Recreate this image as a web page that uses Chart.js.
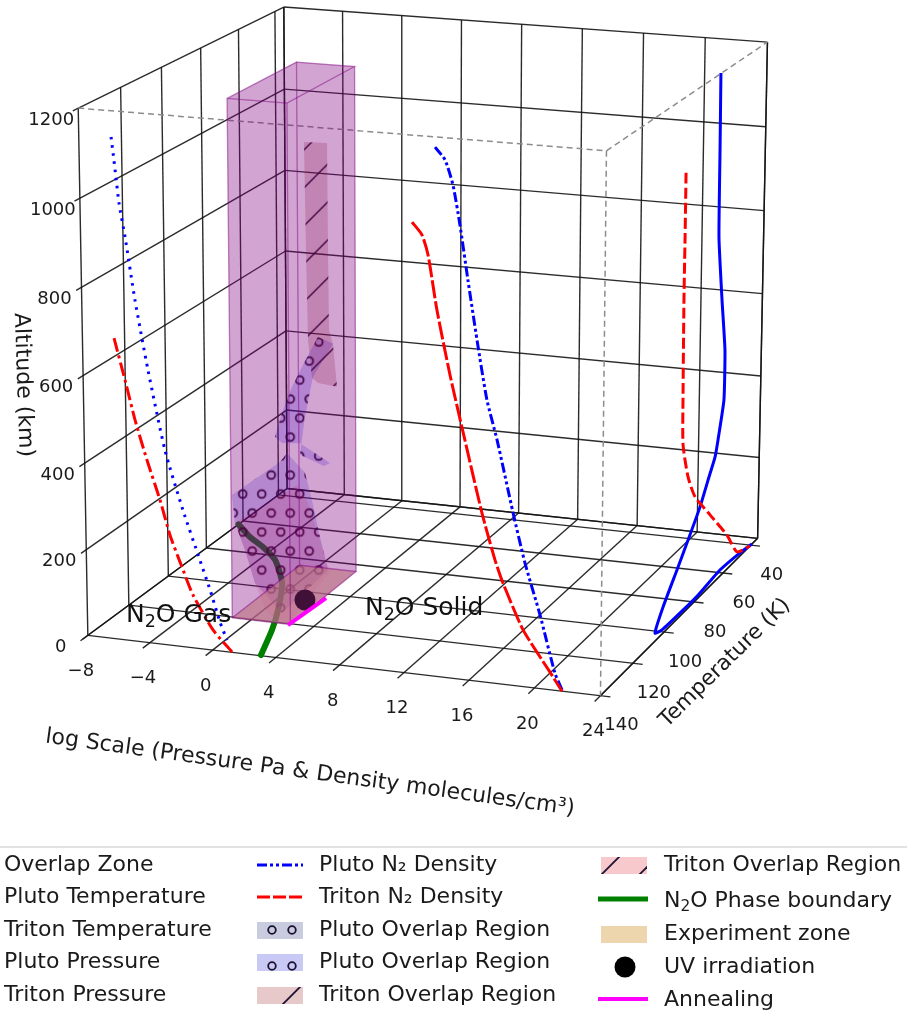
<!DOCTYPE html>
<html>
<head>
<meta charset="utf-8">
<title>Pluto and Triton N2O overlap</title>
<script src="https://cdn.jsdelivr.net/npm/chart.js@4"></script>
<style>
  body { margin: 0; background: #fff; }
  canvas { display: block; filter: blur(0.4px); }
</style>
</head>
<body>
<canvas id="myChart" width="907" height="1017"></canvas>
<script>
const xTicks = [-8, -4, 0, 4, 8, 12, 16, 20, 24];
const tempTicks = [40, 60, 80, 100, 120, 140];
const altTicks = [0, 200, 400, 600, 800, 1000, 1200];

// log values and altitudes, these sit on the T=140 wall
const plutoPressureLog = [-5.97, -5.86, -5.70, -5.54, -5.19, -4.63, -3.87, -2.87, -1.78, -0.74, -0.12, 0.49, 0.92];
const plutoPressureAlt = [1142, 1107, 1052, 997, 922, 783, 627, 449, 316, 205, 139, 67, 27];
const tritonPressureLog = [-5.99, -5.34, -4.74, -4.02, -3.23, -2.62, -2.01, -1.21, 0.04, 1.23];
const tritonPressureAlt = [692, 600, 511, 422, 334, 255, 196, 123, 47, 1];
const plutoDensityLog = [13.87, 14.47, 14.95, 15.37, 15.86, 16.42, 17.03, 17.65, 18.64, 19.38, 20.31, 21.24, 21.68];
const plutoDensityAlt = [1178, 1152, 1099, 1014, 895, 765, 635, 549, 390, 280, 167, 39, 3];
const tritonDensityLog = [12.49, 13.09, 13.46, 14.00, 14.80, 15.71, 16.76, 17.56, 18.05, 19.29, 20.94, 21.68];
const tritonDensityAlt = [1011, 985, 942, 823, 682, 541, 382, 280, 230, 129, 40, 0];

// temperature profiles, on the x=24 side
const plutoTemp = [67.6, 67.3, 67.0, 64.1, 61.4, 61.5, 65.2, 67.1, 71.7, 77.0, 84.8, 92.0, 100.9, 106.0, 101.4, 87.5, 77.4, 62.2, 47.9, 39.1];
const plutoTempAlt = [1201, 1024, 821, 666, 540, 422, 338, 303, 263, 216, 164, 118, 62, 19, 10, 7, 7, 15, 8, 0];
const tritonTemp = [90.0, 90.0, 90.1, 89.7, 89.2, 85.5, 80.5, 69.9, 57.6, 50.1, 40.6];
const tritonTempAlt = [1028, 883, 739, 507, 402, 315, 252, 174, 84, 18, 0];

// phase boundary on the floor
const phaseLog = [3.01, 1.90, 0.83, -0.90, -3.03, -4.74, -6.30, -8.0];
const phaseTemp = [139.6, 124.8, 112.8, 96.4, 82.7, 75.4, 69.9, 62.5];

const boxLog = [-1.2, 2.55];
const boxTemp = [120.4, 84.3];
const boxAlt = [0, 1195];
const uvLog = [1.65];
const uvTemp = [105.1];
const annealLog = [2.45, 2.71];
const annealTemp = [120.9, 102.5];

// overlap regions, outlines taken on the T=90 plane
const overlapTemp = 90;
const tritonUpperLog = [-0.06, 1.43, 1.46, 1.50, 1.76, 2.01, 0.77, 0.38, 0.13, 0.03];
const tritonUpperAlt = [1027, 1029, 780, 593, 558, 460, 465, 475, 564, 776];
const tritonLowerLog = [-4.79, -0.65, 0.07, 1.50, -1.31, -2.70, -3.49, -4.14];
const tritonLowerAlt = [108, 216, 175, 14, -122, -103, -33, 45];
const plutoUpperLog = [1.76, 0.78, -0.21, -0.94, -1.61, -2.08, -1.62, -0.43, 1.53, 1.13, -0.44, -0.10, 0.44];
const plutoUpperAlt = [561, 574, 504, 449, 385, 326, 313, 317, 277, 268, 289, 381, 478];
const plutoLowerLog = [-4.97, -1.76, -1.30, -0.12, 0.33, 0.85, 1.37, -1.70, -3.49, -4.14, -4.79];
const plutoLowerAlt = [175, 267, 290, 247, 183, 96, 18, -99, -33, 45, 108];

const legendCol1 = ['Overlap Zone', 'Pluto Temperature', 'Triton Temperature', 'Pluto Pressure', 'Triton Pressure'];
const legendCol2 = ['Pluto N₂ Density', 'Triton N₂ Density', 'Pluto Overlap Region', 'Pluto Overlap Region', 'Triton Overlap Region'];
const legendCol3 = ['Triton Overlap Region', 'N2O Phase boundary', 'Experiment zone', 'UV irradiation', 'Annealing'];

const logMin = -8, logMax = 24, tempFront = 140, tempBack = 35, altTop = 1200;

// where the box corners land on screen, the camera is fitted to these
const cameraFit = [
  [logMin, tempFront, 0, 88, 635], [logMax, tempFront, 0, 600, 696],
  [logMax, tempBack, 0, 758, 538], [logMin, tempBack, 0, 287, 489],
  [logMin, tempFront, altTop, 78, 108], [logMax, tempFront, altTop, 607, 151],
  [logMax, tempBack, altTop, 767, 42], [logMin, tempBack, altTop, 284, 7]
];

function normalize(x, t, z) {
  return [(x - logMin) / (logMax - logMin), (t - tempBack) / (tempFront - tempBack), z / altTop];
}

function fitCamera() {
  let rows = [];
  let right = [];
  cameraFit.forEach(c => {
    let [X, Y, Z] = normalize(c[0], c[1], c[2]);
    rows.push([X, Y, Z, 1, 0, 0, 0, 0, -c[3] * X, -c[3] * Y, -c[3] * Z]);
    right.push(c[3]);
    rows.push([0, 0, 0, 0, X, Y, Z, 1, -c[4] * X, -c[4] * Y, -c[4] * Z]);
    right.push(c[4]);
  });
  let m = [];
  for (let i = 0; i < 11; i++) {
    m[i] = [];
    for (let j = 0; j < 11; j++) {
      m[i][j] = rows.reduce((s, r) => s + r[i] * r[j], 0);
    }
    m[i][11] = rows.reduce((s, r, k) => s + r[i] * right[k], 0);
  }
  for (let i = 0; i < 11; i++) {
    let best = i;
    for (let r = i; r < 11; r++) {
      if (Math.abs(m[r][i]) > Math.abs(m[best][i])) best = r;
    }
    [m[i], m[best]] = [m[best], m[i]];
    for (let r = 0; r < 11; r++) {
      if (r === i) continue;
      let f = m[r][i] / m[i][i];
      for (let c = i; c <= 11; c++) m[r][c] -= f * m[i][c];
    }
  }
  return m.map((r, i) => r[11] / r[i]);
}

const cam = fitCamera();

function project(x, t, z) {
  let [X, Y, Z] = normalize(x, t, z);
  let w = cam[8] * X + cam[9] * Y + cam[10] * Z + 1;
  return {
    x: (cam[0] * X + cam[1] * Y + cam[2] * Z + cam[3]) / w,
    y: (cam[4] * X + cam[5] * Y + cam[6] * Z + cam[7]) / w
  };
}

const ctx = document.getElementById('myChart').getContext('2d');

function hatchO(bg) {
  let tile = document.createElement('canvas');
  tile.width = 19;
  tile.height = 38;
  let g = tile.getContext('2d');
  g.fillStyle = bg;
  g.fillRect(0, 0, 19, 38);
  g.strokeStyle = 'rgba(25,0,35,0.95)';
  g.lineWidth = 1.8;
  [[9.5, 9.5], [0, 28.5], [19, 28.5]].forEach(p => {
    g.beginPath();
    g.arc(p[0], p[1], 3.9, 0, Math.PI * 2);
    g.stroke();
  });
  let pattern = ctx.createPattern(tile, 'repeat');
  pattern.setTransform(new DOMMatrix().translate(233.2, 484.5));
  return pattern;
}

function hatchSlash(bg) {
  let tile = document.createElement('canvas');
  tile.width = 38;
  tile.height = 38;
  let g = tile.getContext('2d');
  g.fillStyle = bg;
  g.fillRect(0, 0, 38, 38);
  g.strokeStyle = 'rgba(25,0,25,0.95)';
  g.lineWidth = 1.5;
  [[-5, 5, 5, -5], [0, 38, 38, 0], [33, 43, 43, 33]].forEach(l => {
    g.beginPath();
    g.moveTo(l[0], l[1]);
    g.lineTo(l[2], l[3]);
    g.stroke();
  });
  let pattern = ctx.createPattern(tile, 'repeat');
  pattern.setTransform(new DOMMatrix().translate(-2.3, 0));
  return pattern;
}

let datasets = [];

function addLine(points, style) {
  datasets.push(Object.assign({
    data: points,
    showLine: true,
    pointRadius: 0,
    fill: false,
    tension: 0,
    borderColor: '#000',
    borderWidth: 1,
    clip: false
  }, style));
}

function addShape(points, fillStyle, style) {
  addLine(points, Object.assign({
    fill: 'shape',
    backgroundColor: fillStyle,
    borderWidth: 0,
    borderColor: 'rgba(0,0,0,0)'
  }, style));
}

const gridLine = { borderColor: 'rgba(20,20,20,0.9)', borderWidth: 1.4 };
const dashedEdge = { borderColor: '#8c8c8c', borderWidth: 1.5, borderDash: [6, 4] };

// floor
xTicks.forEach(x => addLine([project(x, tempBack, 0), project(x, 143.5, 0)], gridLine));
tempTicks.forEach(t => addLine([project(logMin, t, 0), project(24.6, t, 0)], gridLine));
// left wall
tempTicks.forEach(t => addLine([project(logMin, t, 0), project(logMin, t, altTop)], gridLine));
altTicks.forEach(z => addLine([project(logMin, 142.5, z), project(logMin, tempBack, z)], gridLine));
// back wall
xTicks.forEach(x => addLine([project(x, tempBack, 0), project(x, tempBack, altTop)], gridLine));
altTicks.forEach(z => addLine([project(logMin, tempBack, z), project(logMax, tempBack, z)], gridLine));
// box edges that are still solid
addLine([project(logMin, tempBack, 0), project(logMax, tempBack, 0)], gridLine);
addLine([project(logMin, tempBack, 0), project(logMin, tempBack, altTop)], gridLine);
addLine([project(logMax, tempBack, 0), project(logMax, tempBack, altTop)], gridLine);
addLine([project(logMax, tempBack, 0), project(logMax, tempFront, 0)], gridLine);
// dashed front corner
addLine([project(logMin, tempFront, altTop), project(logMax, tempFront, altTop)], dashedEdge);
addLine([project(logMax, tempFront, altTop), project(logMax, tempBack, altTop)], dashedEdge);
addLine([project(logMax, tempFront, altTop), project(logMax, tempFront, 0)], dashedEdge);

addLine(plutoPressureLog.map((x, i) => project(x, tempFront, plutoPressureAlt[i])),
  { borderColor: '#0000ff', borderWidth: 3, borderDash: [2.6, 5.6], tension: 0.2 });
addLine(tritonPressureLog.map((x, i) => project(x, tempFront, tritonPressureAlt[i])),
  { borderColor: '#ff0000', borderWidth: 3, borderDash: [14, 4, 3, 4], tension: 0.2 });
addLine(plutoDensityLog.map((x, i) => project(x, tempFront, plutoDensityAlt[i])),
  { borderColor: '#0000ff', borderWidth: 3, borderDash: [10, 3, 3, 3, 3, 3], tension: 0.2 });
addLine(tritonDensityLog.map((x, i) => project(x, tempFront, tritonDensityAlt[i])),
  { borderColor: '#ff0000', borderWidth: 3, borderDash: [18, 3], tension: 0.2 });
addLine(plutoTemp.map((t, i) => project(logMax, t, plutoTempAlt[i])),
  { borderColor: '#0000ff', borderWidth: 3, tension: 0.15 });
addLine(tritonTemp.map((t, i) => project(logMax, t, tritonTempAlt[i])),
  { borderColor: '#ff0000', borderWidth: 3, borderDash: [11, 4], tension: 0.2 });

addLine(phaseLog.map((x, i) => project(x, phaseTemp[i], 0)),
  { borderColor: '#008000', borderWidth: 6, borderCapStyle: 'round', tension: 0.2 });

addShape(plutoLowerLog.map((x, i) => project(x, overlapTemp, plutoLowerAlt[i])), hatchO('rgba(20,30,220,0.2)'));
addShape(plutoUpperLog.map((x, i) => project(x, overlapTemp, plutoUpperAlt[i])), hatchO('rgba(0,0,255,0.2)'));
addShape(tritonUpperLog.map((x, i) => project(x, overlapTemp, tritonUpperAlt[i])), hatchSlash('rgba(130,0,0,0.2)'));
addShape(tritonLowerLog.map((x, i) => project(x, overlapTemp, tritonLowerAlt[i])), 'rgba(255,0,0,0.12)');

// experiment zone on the floor
addShape([
  project(boxLog[0], boxTemp[0], 0), project(boxLog[1], boxTemp[0], 0),
  project(boxLog[1], boxTemp[1], 0), project(boxLog[0], boxTemp[1], 0)
], 'rgba(222,184,135,0.65)');

datasets.push({
  data: uvLog.map((x, i) => project(x, uvTemp[i], 0)),
  pointRadius: 10.5,
  pointBackgroundColor: '#1c1a10',
  pointBorderWidth: 0,
  clip: false
});

// overlap zone faces
const faceStyle = { borderWidth: 1.3, borderColor: 'rgba(128,0,128,0.28)' };
const faceFill = 'rgba(128,0,128,0.2)';
function boxFace(a, b, c, d) {
  addShape([a, b, c, d, a].map(p => project(boxLog[p[0]], boxTemp[p[1]], boxAlt[p[2]])), faceFill, faceStyle);
}
boxFace([0, 0, 0], [1, 0, 0], [1, 1, 0], [0, 1, 0]);
boxFace([0, 1, 0], [1, 1, 0], [1, 1, 1], [0, 1, 1]);
boxFace([0, 0, 0], [0, 1, 0], [0, 1, 1], [0, 0, 1]);
boxFace([1, 0, 0], [1, 1, 0], [1, 1, 1], [1, 0, 1]);
boxFace([0, 0, 0], [1, 0, 0], [1, 0, 1], [0, 0, 1]);
boxFace([0, 0, 1], [1, 0, 1], [1, 1, 1], [0, 1, 1]);

addLine(annealLog.map((x, i) => project(x, annealTemp[i], 0)),
  { borderColor: '#ff00ff', borderWidth: 4 });

// first dataset is painted last by Chart.js, so number them the other way round
datasets.forEach((d, i) => { d.order = datasets.length - i; });

const textColor = '#1a1a1a';

function drawN2O(g, before, after, x, y, size) {
  g.font = size + 'px "DejaVu Sans"';
  g.textAlign = 'left';
  g.textBaseline = 'alphabetic';
  g.fillText(before, x, y);
  let w = g.measureText(before).width;
  g.font = (size * 0.7) + 'px "DejaVu Sans"';
  g.fillText('2', x + w, y + size * 0.2);
  let w2 = g.measureText('2').width;
  g.font = size + 'px "DejaVu Sans"';
  g.fillText(after, x + w + w2, y);
}

function rotatedText(g, text, x, y, deg, size) {
  g.save();
  g.translate(x, y);
  g.rotate(deg * Math.PI / 180);
  g.font = size + 'px "DejaVu Sans"';
  g.textAlign = 'center';
  g.textBaseline = 'middle';
  g.fillText(text, 0, 0);
  g.restore();
}

function legendLine(g, x0, x1, y, color, width, dash) {
  g.save();
  g.strokeStyle = color;
  g.lineWidth = width;
  g.setLineDash(dash);
  g.beginPath();
  g.moveTo(x0, y);
  g.lineTo(x1, y);
  g.stroke();
  g.restore();
}

function legendSwatch(g, x, y, w, h, color, marks, slash) {
  g.save();
  g.fillStyle = color;
  g.fillRect(x, y, w, h);
  g.beginPath();
  g.rect(x, y, w, h);
  g.clip();
  g.strokeStyle = '#1a1030';
  g.lineWidth = 1.8;
  marks.forEach(m => {
    g.beginPath();
    if (slash) {
      g.moveTo(m[0] - 11, m[1] + 11);
      g.lineTo(m[0] + 11, m[1] - 11);
    } else {
      g.arc(m[0], m[1], 3.8, 0, Math.PI * 2);
    }
    g.stroke();
  });
  g.restore();
}

const textPlugin = {
  id: 'textPlugin',
  afterDraw(chart) {
    let g = chart.ctx;
    g.save();
    g.fillStyle = textColor;
    g.font = '18px "DejaVu Sans"';
    g.textAlign = 'center';
    g.textBaseline = 'middle';
    xTicks.forEach(x => {
      let p = project(x, tempFront, 0);
      g.fillText(String(x).replace('-', '−'), p.x - 7, p.y + 36);
    });
    tempTicks.forEach(t => {
      let p = project(logMax, t, 0);
      g.fillText(String(t), p.x + 21, p.y + 30);
    });
    altTicks.forEach(z => {
      let p = project(logMin, tempFront, z);
      g.fillText(String(z), p.x - 27, p.y + 12);
    });

    rotatedText(g, 'log Scale (Pressure Pa & Density molecules/cm³)', 310, 773, 7.8, 22);
    rotatedText(g, 'Temperature (K)', 725, 663, -44.5, 21.5);
    rotatedText(g, 'Altitude (km)', 23, 385, 88, 22);

    g.fillStyle = '#111';
    drawN2O(g, 'N', 'O Gas', 126, 622, 25);
    drawN2O(g, 'N', 'O Solid', 365, 615, 25);

    // legend
    g.fillStyle = '#e2e2e2';
    g.fillRect(0, 846, 907, 2);
    g.fillStyle = textColor;
    g.font = '22px "DejaVu Sans"';
    g.textAlign = 'left';
    g.textBaseline = 'middle';
    const rows = [865, 897, 930, 962, 995];
    legendCol1.forEach((s, i) => g.fillText(s, 4, rows[i]));
    legendCol2.forEach((s, i) => g.fillText(s, 319, rows[i]));
    const rows3 = [865, 899, 934, 967, 1000];
    legendCol3.forEach((s, i) => {
      if (s.startsWith('N2O')) {
        drawN2O(g, 'N', s.slice(2), 664, rows3[i] + 8, 22);
        g.font = '22px "DejaVu Sans"';
        g.textBaseline = 'middle';
      } else {
        g.fillText(s, 664, rows3[i]);
      }
    });

    legendLine(g, 257, 303, 865, '#0000ff', 3, [10, 3, 3, 3, 3, 3]);
    legendLine(g, 257, 303, 897, '#ff0000', 3, [13, 3]);
    legendSwatch(g, 257, 922, 46, 17, '#c9cbdf', [[272, 930], [292, 930]], false);
    legendSwatch(g, 257, 954, 46, 17, '#c9c9f5', [[272, 966], [292, 966]], false);
    legendSwatch(g, 257, 987, 46, 17, '#e7c9c9', [[292, 995]], true);
    legendSwatch(g, 601, 857, 46, 17, '#f8c9cc', [[612, 864], [650, 864]], true);
    legendLine(g, 598, 648, 899, '#008000', 5, []);
    legendSwatch(g, 601, 926, 46, 17, '#edd5ae', [], false);
    g.fillStyle = '#000';
    g.beginPath();
    g.arc(625, 967, 10.5, 0, Math.PI * 2);
    g.fill();
    legendLine(g, 598, 648, 999, '#ff00ff', 4, []);
    g.restore();
  }
};

new Chart('myChart', {
  type: 'scatter',
  data: { datasets: datasets },
  options: {
    responsive: false,
    animation: false,
    layout: { padding: 0, autoPadding: false },
    scales: {
      x: { type: 'linear', min: 0, max: 907, display: false },
      y: { type: 'linear', min: 0, max: 1017, reverse: true, display: false }
    },
    plugins: {
      legend: { display: false },
      tooltip: { enabled: false }
    }
  },
  plugins: [textPlugin]
});
</script>
</body>
</html>
